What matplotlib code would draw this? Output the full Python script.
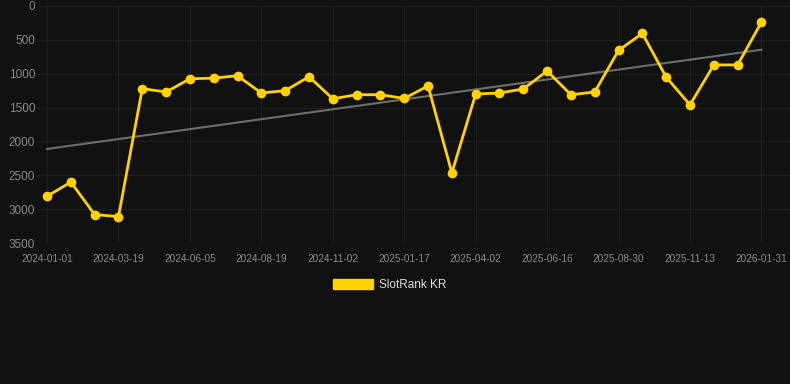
import numpy as np
import matplotlib.pyplot as plt
from matplotlib.patches import Patch

dates = [
    "2024-01-01", "2024-01-27", "2024-02-22",
    "2024-03-19", "2024-04-14", "2024-05-10",
    "2024-06-05", "2024-06-30", "2024-07-25",
    "2024-08-19", "2024-09-13", "2024-10-08",
    "2024-11-02", "2024-11-27", "2024-12-22",
    "2025-01-17", "2025-02-11", "2025-03-08",
    "2025-04-02", "2025-04-27", "2025-05-22",
    "2025-06-16", "2025-07-11", "2025-08-05",
    "2025-08-30", "2025-09-24", "2025-10-19",
    "2025-11-13", "2025-12-09", "2026-01-05",
    "2026-01-31",
]
ranks = [
    2810, 2600, 3080, 3110, 1220, 1270, 1075, 1065, 1030, 1285,
    1250, 1045, 1370, 1310, 1310, 1365, 1180, 2465, 1300, 1285,
    1225, 960, 1310, 1270, 655, 405, 1050, 1460, 870, 870, 240,
]
y_ticks = [0, 500, 1000, 1500, 2000, 2500, 3000, 3500]
series_name = "SlotRank KR"

bg = "#111111"
gold = "#ffd200"

plt.rcParams["font.family"] = ["Liberation Sans", "DejaVu Sans"]

fig = plt.figure(figsize=(7.9, 3.84), dpi=100, facecolor=bg)
ax = fig.add_axes([38 / 790, 1 - 243 / 384, 752 / 790, 237 / 384])
ax.set_facecolor(bg)

x = np.arange(len(ranks))

# trend line (least squares)
coef = np.polyfit(x, ranks, 1)
ax.plot(x, np.polyval(coef, x), color="#6e6e6e", lw=1.5, zorder=2)

ax.plot(x, ranks, color=gold, lw=2.0, marker="o", markersize=7,
        markeredgewidth=0, zorder=3)

ax.set_ylim(3500, 0)
ax.set_xlim(-0.38, 31.2)
ax.set_yticks(y_ticks)
ax.set_yticklabels([str(v) for v in y_ticks])
ax.set_xticks(x[::3])
ax.set_xticklabels(dates[::3])

ax.grid(True, color="#202020", lw=0.8)
ax.set_axisbelow(True)
for s in ax.spines.values():
    s.set_visible(False)
ax.tick_params(axis="both", length=0, colors="#8a8a8a")
ax.tick_params(axis="y", labelsize=8.5, pad=2)
ax.tick_params(axis="x", labelsize=7.2, pad=8)

handle = Patch(facecolor=gold, edgecolor=gold)
leg = fig.legend([handle], [series_name], loc="center",
                 bbox_to_anchor=(390 / 790, 1 - 285 / 384), frameon=False,
                 fontsize=8.5, handlelength=3.4, handleheight=0.9,
                 handletextpad=0.5)
for t in leg.get_texts():
    t.set_color("#dddddd")

fig.savefig("out.png", dpi=100, facecolor=bg)
